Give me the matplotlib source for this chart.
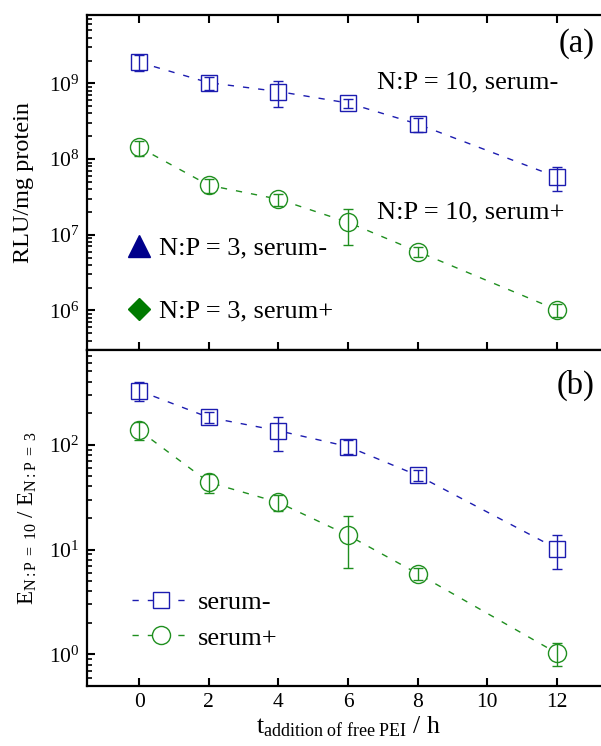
import matplotlib.pyplot as plt
from matplotlib.lines import Line2D
from matplotlib.ticker import LogLocator, NullFormatter

plt.rcParams['font.family'] = 'serif'
plt.rcParams['font.serif'] = ['Liberation Serif', 'DejaVu Serif']
plt.rcParams['mathtext.fontset'] = 'custom'
plt.rcParams['mathtext.rm'] = 'Liberation Serif'
plt.rcParams['mathtext.it'] = 'Liberation Serif:italic'

t_hours = [0, 2, 4, 6, 8, 12]

# (a) transfection efficiency at N:P = 10
rlu_serum_minus = [1.9e9, 1.02e9, 7.8e8, 5.5e8, 2.9e8, 5.8e7]
rlu_serum_minus_err = [4.5e8, 2.0e8, 2.9e8, 8.0e7, 6.0e7, 2.0e7]
rlu_serum_plus = [1.43e8, 4.5e7, 2.95e7, 1.46e7, 6.0e6, 1.02e6]
rlu_serum_plus_err = [3.2e7, 9.0e6, 5.5e6, 7.2e6, 8.5e5, 2.0e5]

# (b) efficiency ratio N:P = 10 over N:P = 3
ratio_serum_minus = [327, 182, 136, 96, 51, 10.2]
ratio_serum_minus_err = [68, 22, 49, 14, 6, 3.6]
ratio_serum_plus = [137, 43.8, 28.2, 13.7, 5.9, 1.03]
ratio_serum_plus_err = [27, 9, 4.7, 7, 0.8, 0.26]

blue = '#1c1cb0'
green = '#1f8f1f'
dash = (0, (4.5, 6.5))

sq = dict(fmt='s', color=blue, ms=11.5)
ci = dict(fmt='o', color=green, ms=13)
common = dict(ls=dash, lw=1, mfc='white', mew=1, capsize=3.5, elinewidth=1,
              capthick=1, barsabove=True)

fig = plt.figure(figsize=(6.01, 7.46), dpi=100)
ax1 = fig.add_axes([0.1448, 0.5308, 0.8686, 0.4491])
ax2 = fig.add_axes([0.1448, 0.0804, 0.8686, 0.4504])

ax1.errorbar(t_hours, rlu_serum_minus, yerr=rlu_serum_minus_err, mec=blue, **sq, **common)
ax1.errorbar(t_hours, rlu_serum_plus, yerr=rlu_serum_plus_err, mec=green, **ci, **common)
ax2.errorbar(t_hours, ratio_serum_minus, yerr=ratio_serum_minus_err, mec=blue, **sq, **common)
ax2.errorbar(t_hours, ratio_serum_plus, yerr=ratio_serum_plus_err, mec=green, **ci, **common)

ax1.set_yscale('log')
ax1.set_ylim(3e5, 8e9)
ax2.set_yscale('log')
ax2.set_ylim(0.5, 800)

for ax in (ax1, ax2):
    ax.set_xlim(-1.5, 13.5)
    ax.set_xticks(range(0, 13, 2))
    ax.yaxis.set_major_locator(LogLocator(base=10, numticks=20))
    ax.yaxis.set_minor_locator(LogLocator(base=10, subs=range(2, 10), numticks=20))
    ax.yaxis.set_minor_formatter(NullFormatter())
    ax.tick_params(which='both', direction='in', right=False, labelsize=15.5)
    ax.tick_params(which='major', length=6, width=1.5)
    ax.tick_params(which='minor', length=3.5, width=1.2)
    ax.tick_params(axis='y', pad=5.5)
    ax.tick_params(axis='x', pad=5)
    for s in ax.spines.values():
        s.set_linewidth(1.6)

ax1.tick_params(axis='x', top=True, labelbottom=False)

ax1.set_ylabel('RLU/mg protein', fontsize=17.5)
ax1.yaxis.set_label_coords(-0.102, 0.5)
ax2.set_ylabel(r'$\mathrm{E}_{\mathrm{N:P\ =\ 10}}$ / $\mathrm{E}_{\mathrm{N:P\ =\ 3}}$', fontsize=16.5)
ax2.yaxis.set_label_coords(-0.092, 0.5)
ax2.set_xlabel(r'$\mathrm{t}_{\mathrm{addition\ of\ free\ PEI}}$ / h', fontsize=18.5, labelpad=2)

ax1.text(0.973, 0.916, '(a)', transform=ax1.transAxes, ha='right', va='center', fontsize=23.5)
ax2.text(0.973, 0.896, '(b)', transform=ax2.transAxes, ha='right', va='center', fontsize=23.5)
ax1.text(0.5556, 0.80, 'N:P = 10, serum-', transform=ax1.transAxes, ha='left', va='center', fontsize=19)
ax1.text(0.5556, 0.412, 'N:P = 10, serum+', transform=ax1.transAxes, ha='left', va='center', fontsize=19)

h_np3 = [Line2D([], [], ls='none', marker='^', color='#00008b', ms=16),
         Line2D([], [], ls='none', marker='D', color='#007a00', ms=11.5)]
ax1.legend(h_np3, ['N:P = 3, serum-', 'N:P = 3, serum+'], loc='center left',
           bbox_to_anchor=(0.0785, 0.21), frameon=False, fontsize=19,
           handlelength=0.82, handletextpad=0.34, labelspacing=1.5,
           borderpad=0, borderaxespad=0)

h_b = [Line2D([], [], ls=dash, lw=1, marker='s', color=blue, mfc='white', ms=11.5),
       Line2D([], [], ls=dash, lw=1, marker='o', color=green, mfc='white', ms=13)]
ax2.legend(h_b, ['serum-', 'serum+'], loc='center left', bbox_to_anchor=(0.086, 0.196),
           frameon=False, fontsize=19, handlelength=2.2, handletextpad=0.3,
           labelspacing=0.45, borderpad=0, borderaxespad=0)

plt.savefig('out.png', dpi=100)
